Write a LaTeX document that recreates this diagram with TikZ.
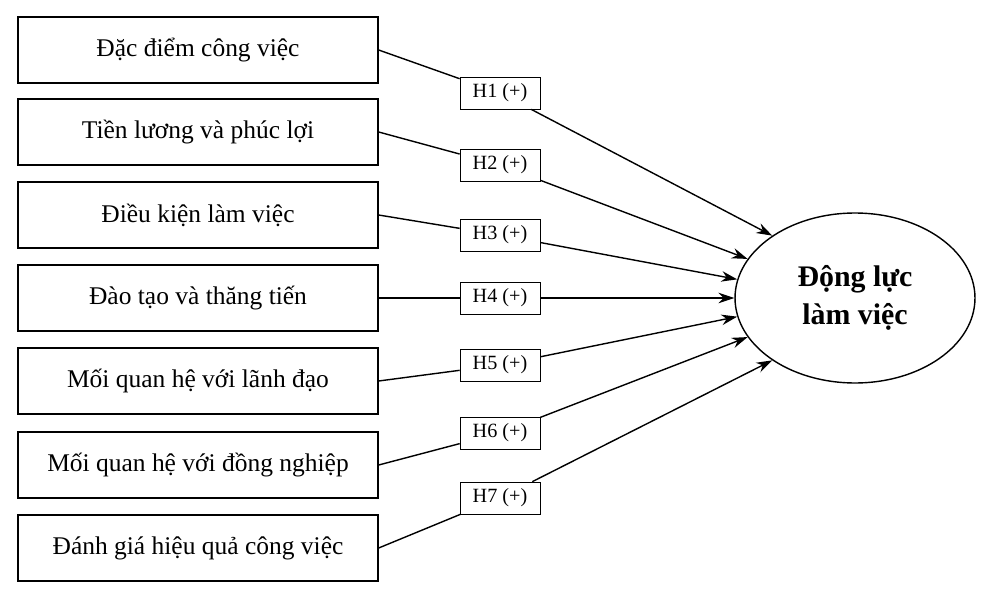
\documentclass[tikz,border=0pt]{standalone}
\usepackage{fontspec}
\setmainfont{Liberation Serif}
\usetikzlibrary{shapes,positioning,arrows.meta}
\tikzset{
        % Factor boxes
        factor/.style={rectangle, draw=black, thick, minimum width=7.2cm, minimum height=1.32cm, font=\fontsize{14.5}{17}\selectfont},
        % Hypothesis labels
        hyp/.style={rectangle, draw=black, fill=white, minimum width=1.6cm, minimum height=0.64cm, inner sep=1pt, font=\fontsize{11.5}{14}\selectfont},
        % Outcome
        outcome/.style={ellipse, draw=black, thick, minimum width=4.8cm, minimum height=3.4cm, align=center, font=\bfseries\fontsize{17}{22}\selectfont}
}
\begin{document}
\begin{tikzpicture}[x=0.02cm, y=-0.02cm]
            \useasboundingbox (0,0) rectangle (1000,588);
            \node[outcome] (dl) at (855,298) {Động lực\\làm việc};
            \node[factor] (b1) at (198,50) {Đặc điểm công việc};
            \node[factor] (b2) at (198,132) {Tiền lương và phúc lợi};
            \node[factor] (b3) at (198,215) {Điều kiện làm việc};
            \node[factor] (b4) at (198,298) {Đào tạo và thăng tiến};
            \node[factor] (b5) at (198,381) {Mối quan hệ với lãnh đạo};
            \node[factor] (b6) at (198,465) {Mối quan hệ với đồng nghiệp};
            \node[factor] (b7) at (198,548) {Đánh giá hiệu quả công việc};
            \node[hyp] (h1) at (500,93) {H1 (+)};
            \node[hyp] (h2) at (500,165) {H2 (+)};
            \node[hyp] (h3) at (500,235) {H3 (+)};
            \node[hyp] (h4) at (500,298) {H4 (+)};
            \node[hyp] (h5) at (500,365) {H5 (+)};
            \node[hyp] (h6) at (500,433) {H6 (+)};
            \node[hyp] (h7) at (500,498) {H7 (+)};
            \foreach \i/\a in {1/143,2/160,3/171,4/180,5/189,6/200,7/217} {
                \draw[thick] (b\i.east) -- (h\i);
                \draw[thick, -{Stealth[length=9pt,width=6pt]}] (h\i) -- (dl.\a);
            }
\end{tikzpicture}
\end{document}
